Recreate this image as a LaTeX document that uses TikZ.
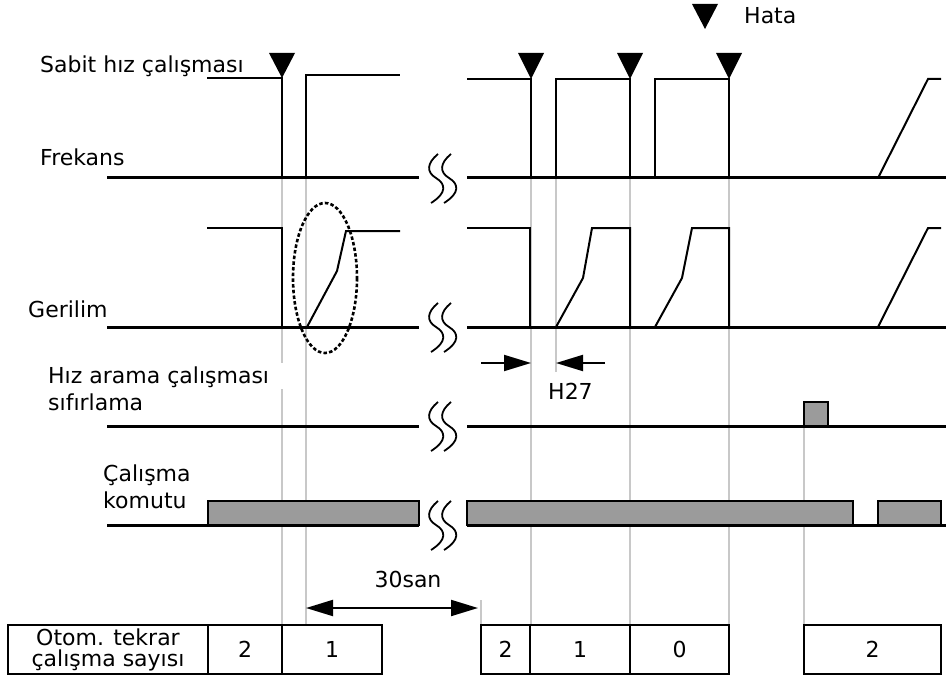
\documentclass[tikz,border=0pt]{standalone}
\usepackage{fontspec}
\setmainfont{DejaVu Sans}
\usetikzlibrary{arrows.meta}
\definecolor{guidegray}{HTML}{C8C8C8}
\definecolor{bargray}{HTML}{9B9B9B}
\begin{document}
\begin{tikzpicture}[x=1pt,y=-1pt,
  baseln/.style={line width=3pt},
  sig/.style={line width=2pt, line join=miter},
  guide/.style={draw=guidegray, line width=1.5pt},
  lbl/.style={font=\fontsize{22}{27}\selectfont, inner sep=0pt, anchor=base west, align=left},
  cell/.style={draw, line width=1.8pt, inner sep=0pt, minimum height=49pt, font=\fontsize{22}{21}\selectfont, align=center},
  tri/.style={fill=black},
  dimarrow/.style={line width=2pt, -{Triangle[length=27pt,width=16pt]}},
  dimboth/.style={line width=2pt, {Triangle[length=27pt,width=16pt]}-{Triangle[length=27pt,width=16pt]}},
  bar/.style={draw, fill=bargray, line width=2pt},
  brkpic/.pic={
    \draw[line width=1.8pt] (1,-24) .. controls (-10,-15) and (-11,-6) .. (-1,0) .. controls (9,6) and (10,15) .. (-6,25);
    \draw[line width=1.8pt] (14,-24) .. controls (3,-15) and (2,-6) .. (12,0) .. controls (22,6) and (23,15) .. (7,25);
  }
]
\useasboundingbox (0,0) rectangle (947,679);

% guide lines
\draw[guide] (282,178) -- (282,363);
\draw[guide] (282,389) -- (282,625);
\draw[guide] (306,178) -- (306,625);
\draw[guide] (531,178) -- (531,625);
\draw[guide] (556,178) -- (556,372);
\draw[guide] (630,178) -- (630,625);
\draw[guide] (729,178) -- (729,625);
\draw[guide] (804,402) -- (804,625);
\draw[guide] (481,600) -- (481,625);

% labels (multi-line nodes: base anchor is on the last line)
\node[lbl] (sabit) at (40,73) {Sabit hız çalışması};
\node[lbl] (frek) at (40,166) {Frekans};
\node[lbl] (geril) at (28,317) {Gerilim};
\node[lbl] (hiz) at (48,410) {Hız arama çalışması\\sıfırlama};
\node[lbl] (calis) at (103,508) {Çalışma\\komutu};
\node[lbl] (hata) at (744,24) {Hata};
\node[lbl] (h27) at (548,399) {H27};
\node[lbl, anchor=base] (san) at (408,587) {30san};

% Frekans row
\draw[sig] (207,78) -- (282,78) -- (282,178);
\draw[sig] (306,178) -- (306,75) -- (400,75);
\draw[sig] (467,79) -- (531,79) -- (531,178);
\draw[sig] (556,178) -- (556,79) -- (630,79) -- (630,178);
\draw[sig] (655,178) -- (655,79) -- (729,79) -- (729,178);
\draw[sig] (878,178) -- (928,79) -- (941,79);
\draw[baseln] (107,178) -- (419,178);
\draw[baseln] (467,178) -- (946,178);

% triangles
\fill[tri] (269,53) -- (295,53) -- (282,78) -- cycle;
\fill[tri] (518,53) -- (544,53) -- (531,79) -- cycle;
\fill[tri] (617,53) -- (643,53) -- (630,79) -- cycle;
\fill[tri] (716,53) -- (742,53) -- (729,79) -- cycle;
\fill[tri] (692,4) -- (718,4) -- (705,29) -- cycle;

% Gerilim row
\draw[sig] (207,228) -- (282,228) -- (282,327);
\draw[sig] (307,327) -- (337,271) -- (346,231) -- (400,231);
\draw[sig] (467,228) -- (530,228) -- (530,327);
\draw[sig] (556,327) -- (583,278) -- (592,228) -- (630,228) -- (630,327);
\draw[sig] (655,327) -- (682,278) -- (692,228) -- (729,228) -- (729,327);
\draw[sig] (878,327) -- (928,228) -- (941,228);
\draw[baseln] (107,327) -- (419,327);
\draw[baseln] (467,327) -- (946,327);
\draw[line width=2.6pt, dash pattern=on 3.5pt off 2.2pt] (325,278) ellipse [x radius=32, y radius=75];

% Hiz arama row
\draw[bar] (804,426) rectangle (828,402);
\draw[baseln] (107,426) -- (419,426);
\draw[baseln] (467,426) -- (946,426);

% Calisma komutu row
\draw[bar] (208,525) rectangle (419,501);
\draw[bar] (467,525) rectangle (853,501);
\draw[bar] (878,525) rectangle (941,501);
\draw[baseln] (107,525) -- (419,525);
\draw[baseln] (467,525) -- (946,525);

% break symbols
\pic at (437,178) {brkpic};
\pic at (437,327) {brkpic};
\pic at (437,426) {brkpic};
\pic at (437,525) {brkpic};

% dimension arrows
\coordinate (ha) at (481,363);
\coordinate (hb) at (531,363);
\coordinate (hc) at (605,363);
\coordinate (hd) at (556,363);
\draw[dimarrow] (ha) -- (hb);
\draw[dimarrow] (hc) -- (hd);
\coordinate (sa) at (306,608);
\coordinate (sb) at (478,608);
\draw[dimboth] (sa) -- (sb);

% table
\node[cell, minimum width=200pt] (tlab) at (108,649.5) {Otom. tekrar\\çalışma sayısı};
\node[cell, minimum width=74pt] (t1) at (245,649.5) {2};
\node[cell, minimum width=100pt] (t2) at (332,649.5) {1};
\node[cell, minimum width=49pt] (t3) at (505.5,649.5) {2};
\node[cell, minimum width=100pt] (t4) at (580,649.5) {1};
\node[cell, minimum width=99pt] (t5) at (679.5,649.5) {0};
\node[cell, minimum width=137pt] (t6) at (872.5,649.5) {2};
\end{tikzpicture}
\end{document}
